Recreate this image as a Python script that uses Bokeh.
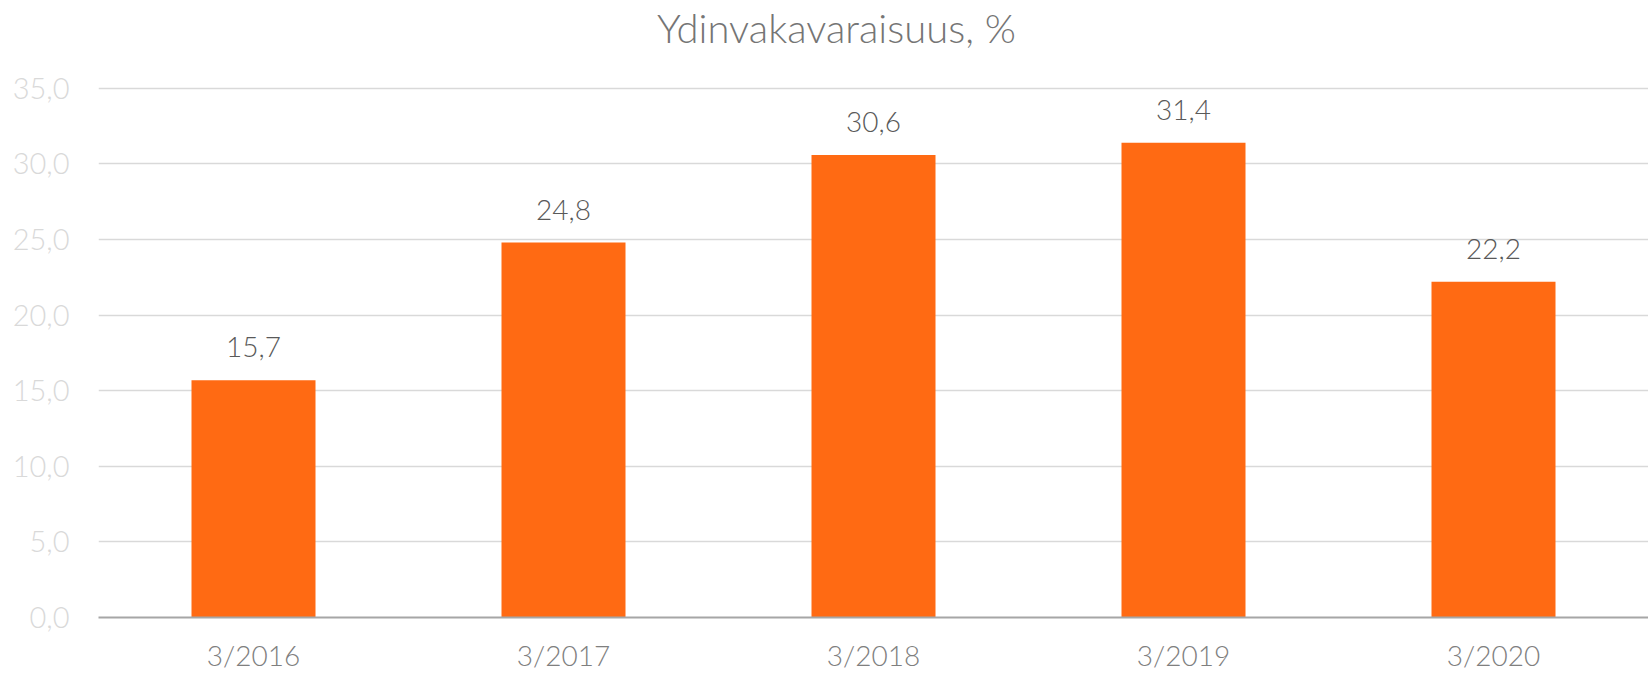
from bokeh.plotting import figure
from bokeh.models import ColumnDataSource, FixedTicker, LabelSet, Label, Range1d
from bokeh.core.properties import value
from bokeh.embed import file_html
from bokeh.resources import INLINE

# ---- data ----
categories = ["3/2016", "3/2017", "3/2018", "3/2019", "3/2020"]
values = [15.7, 24.8, 30.6, 31.4, 22.2]
value_labels = ["15,7", "24,8", "30,6", "31,4", "22,2"]
y_ticks = [0, 5, 10, 15, 20, 25, 30, 35]
y_tick_labels = ["0,0", "5,0", "10,0", "15,0", "20,0", "25,0", "30,0", "35,0"]
title_text = "Ydinvakavaraisuus, %"

# ---- layout (pixels) ----
W, H = 1648, 674
LEFT = 98
BOTTOM = 56
TOP_PAD = 88          # space above the 35,0 gridline (holds the title)
PLOT_H = H - BOTTOM - TOP_PAD

FONT = "Lato Light, Lato"
idx = list(range(len(categories)))

src = ColumnDataSource(dict(x=idx, top=values, lab=value_labels))

y_end = y_ticks[-1] * (PLOT_H + TOP_PAD) / PLOT_H

p = figure(width=W, height=H, output_backend="svg", toolbar_location=None,
           x_range=Range1d(-0.5, len(categories) - 0.5),
           y_range=Range1d(y_ticks[0], y_end),
           min_border_left=LEFT, min_border_right=0, min_border_top=0,
           min_border_bottom=BOTTOM)

p.vbar(x="x", top="top", width=0.4, source=src, color="#FF6A13", line_color=None)

labels = LabelSet(x="x", y="top", text="lab", source=src, y_offset=23,
                  text_align="center", text_baseline="alphabetic",
                  text_font=value(FONT), text_font_size="28px", text_color="#595959")
p.add_layout(labels)

# chart title, placed above the top gridline
title = Label(x=idx[len(idx) // 2], y=y_ticks[-1], x_offset=-37, y_offset=60,
              text=title_text, text_align="center", text_baseline="alphabetic",
              text_font=FONT, text_font_size="40px", text_color="#757575")
p.add_layout(title)

# y axis
p.yaxis.ticker = FixedTicker(ticks=y_ticks)
p.yaxis.major_label_overrides = {t: l for t, l in zip(y_ticks, y_tick_labels)}
p.yaxis.axis_line_color = None
p.yaxis.major_tick_line_color = None
p.yaxis.major_tick_out = 0
p.yaxis.major_tick_in = 0
p.yaxis.minor_tick_line_color = None
p.yaxis.major_label_standoff = 29
p.yaxis.major_label_text_font = FONT
p.yaxis.major_label_text_font_size = "29px"
p.yaxis.major_label_text_color = "#d9d9d9"

# x axis
p.xaxis.ticker = FixedTicker(ticks=idx)
p.xaxis.major_label_overrides = {i: c for i, c in zip(idx, categories)}
p.xaxis.axis_line_color = "#a6a6a6"
p.xaxis.axis_line_width = 2
p.xaxis.major_tick_line_color = None
p.xaxis.major_tick_out = 0
p.xaxis.major_tick_in = 0
p.xaxis.minor_tick_line_color = None
p.xaxis.major_label_standoff = 20
p.xaxis.major_label_text_font = FONT
p.xaxis.major_label_text_font_size = "28px"
p.xaxis.major_label_text_color = "#7f7f7f"

p.xgrid.grid_line_color = None
p.ygrid.ticker = FixedTicker(ticks=y_ticks)
p.ygrid.grid_line_color = "#d9d9d9"
p.ygrid.grid_line_width = 1.5
p.outline_line_color = None

open("out.html", "w").write(file_html(p, INLINE))
